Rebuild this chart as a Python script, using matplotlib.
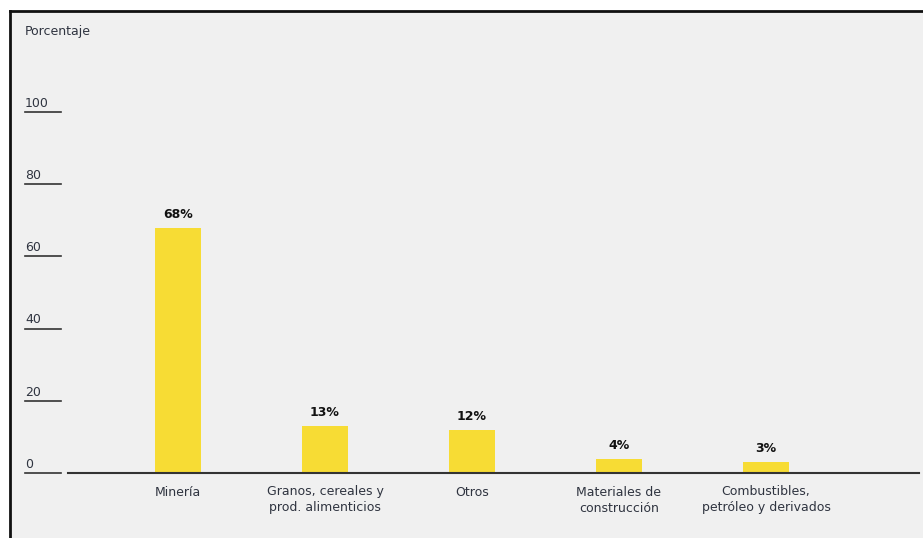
import matplotlib.pyplot as plt
import matplotlib.transforms as mtransforms
from matplotlib.patches import Rectangle

categorias = ["Minería", "Granos, cereales y\nprod. alimenticios", "Otros",
              "Materiales de\nconstrucción", "Combustibles,\npetróleo y derivados"]
porcentajes = [68, 13, 12, 4, 3]
etiquetas = ["68%", "13%", "12%", "4%", "3%"]
yticks = [0, 20, 40, 60, 80, 100]

W, H = 923, 538
fig = plt.figure(figsize=(W / 100, H / 100), dpi=100, facecolor="white")

# marco gris con borde negro (izq y arriba)
fig.add_artist(Rectangle((10 / W, -0.01), 1.0, (H - 11) / H + 0.01, transform=fig.transFigure,
                         facecolor="#f0f0f0", edgecolor="none", zorder=-10))
fig.add_artist(plt.Line2D([10 / W, 10 / W], [0, (H - 11) / H], transform=fig.transFigure,
                          color="#111111", lw=2, zorder=-5))
fig.add_artist(plt.Line2D([10 / W, 1], [(H - 11) / H, (H - 11) / H], transform=fig.transFigure,
                          color="#111111", lw=2, zorder=-5))

ax = fig.add_axes([68 / W, (H - 473) / H, (919 - 68) / W, (473 - 112) / H])
ax.set_zorder(5)
ax.set_facecolor("none")

x = list(range(len(categorias)))
bars = ax.bar(x, porcentajes, width=0.313, color="#f7dc34", zorder=2)
ax.set_xlim(-0.748, 5.041)
ax.set_ylim(0, 100)

for b, t in zip(bars, etiquetas):
    ax.annotate(t, (b.get_x() + b.get_width() / 2, b.get_height()), xytext=(0, 5),
                textcoords="offset points", ha="center", va="bottom",
                fontsize=9, fontweight="bold", color="#111111")

for s in ["top", "right", "left"]:
    ax.spines[s].set_visible(False)
ax.spines["bottom"].set_color("#333333")
ax.spines["bottom"].set_linewidth(1.5)
ax.set_yticks([])
ax.set_xticks(x)
ax.set_xticklabels(categorias, fontsize=9, color="#2f3440", linespacing=1.3)
ax.tick_params(axis="x", length=0, pad=9)

# etiquetas del eje y subrayadas
tr = mtransforms.blended_transform_factory(fig.transFigure, ax.transData)
for v in yticks:
    ax.text(25 / W, v + 0.6, str(v), transform=tr, ha="left", va="bottom",
            fontsize=9, color="#2f3440", clip_on=False)
    ax.plot([25 / W, 61 / W], [v, v], transform=tr, color="#333333", lw=1.2, clip_on=False)

fig.text(25 / W, (H - 31) / H, "Porcentaje", ha="left", va="center", fontsize=9, color="#2f3440")

fig.savefig("out.png", dpi=100, facecolor=fig.get_facecolor())
